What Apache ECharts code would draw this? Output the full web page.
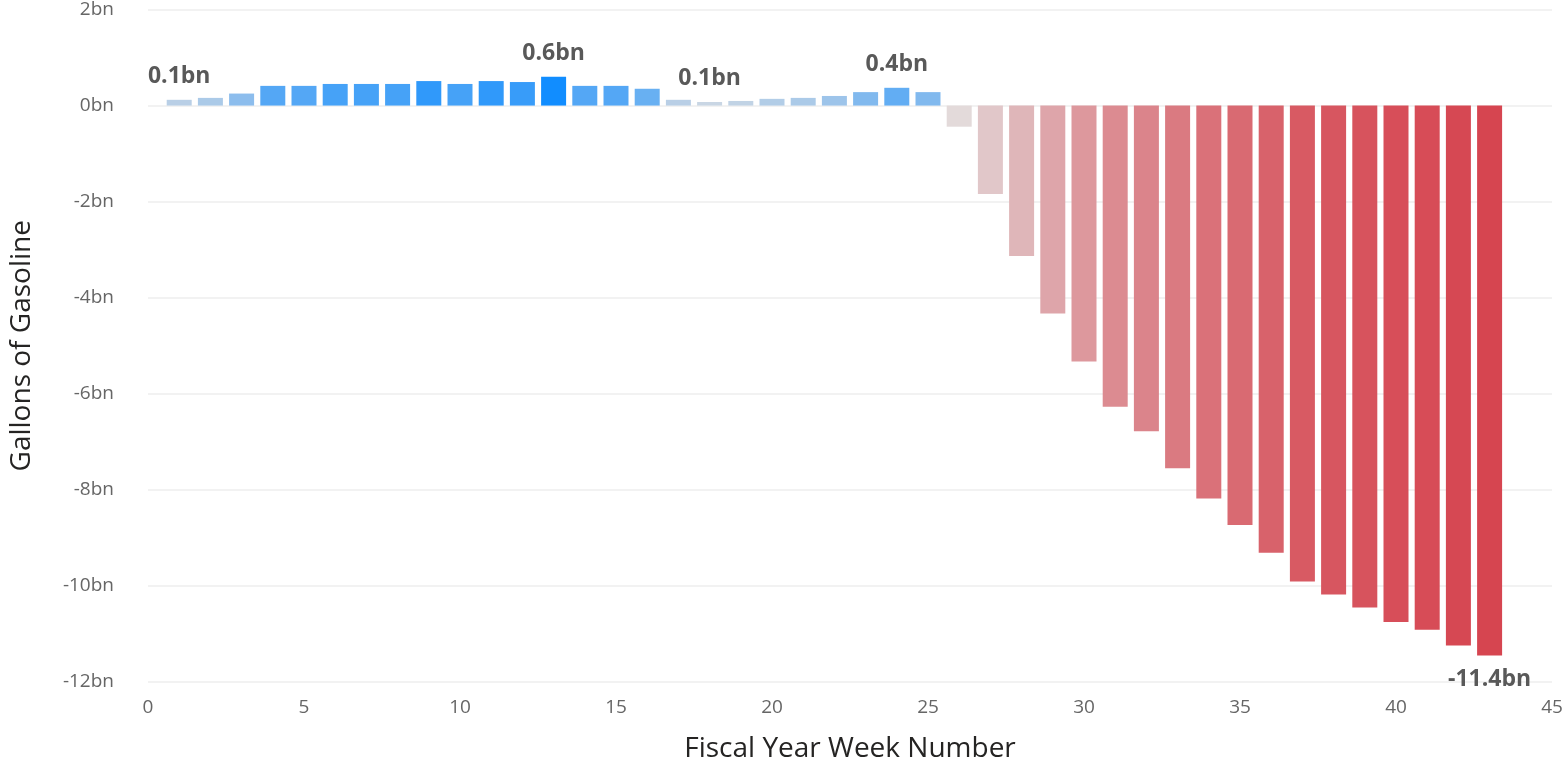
<!DOCTYPE html>
<html>
<head>
<meta charset="utf-8">
<script src="https://cdn.jsdelivr.net/npm/echarts@6/dist/echarts.min.js"></script>
<style>html,body{margin:0;padding:0;background:#fff;}#main{width:1568px;height:770px;}</style>
</head>
<body>
<div id="main"></div>
<script>
const weeks = [1,2,3,4,5,6,7,8,9,10,11,12,13,14,15,16,17,18,19,20,21,22,23,24,25,26,27,28,29,30,31,32,33,34,35,36,37,38,39,40,41,42,43];
const gallonsBn = [0.12,0.16,0.25,0.41,0.41,0.45,0.45,0.45,0.51,0.45,0.51,0.49,0.60,0.41,0.41,0.35,0.12,0.075,0.096,0.14,0.16,0.20,0.28,0.37,0.28,
  -0.44,-1.84,-3.13,-4.33,-5.33,-6.27,-6.78,-7.55,-8.18,-8.73,-9.31,-9.91,-10.18,-10.45,-10.75,-10.91,-11.24,-11.45];
const labeledWeeks = [1,13,18,24,43];
const yTicks = {min:-12, max:2, interval:2};
const xTicks = {min:0, max:45, interval:5};

const zeroColor = [227,224,224];
const posColor = [17,141,255];
const negColor = [214,69,80];
const maxPos = Math.max(...gallonsBn);
const minNeg = Math.min(...gallonsBn);
function mix(a,b,t){return 'rgb('+a.map((v,i)=>Math.round(v+(b[i]-v)*t)).join(',')+')';}
function colorFor(v){return v>=0 ? mix(zeroColor,posColor,v/maxPos) : mix(zeroColor,negColor,v/minNeg);}

const data = weeks.map((w,i)=>{
  const v = gallonsBn[i];
  const item = {value:[w,v], itemStyle:{color:colorFor(v)}};
  if (labeledWeeks.includes(w)) {
    item.label = {show:true, position: v>=0?'top':'bottom', distance:12,
      formatter: v.toFixed(1)+'bn', fontFamily:'Open Sans', fontWeight:'bold', fontSize:23, color:'#595959'};
  }
  return item;
});

const chart = echarts.init(document.getElementById('main'), null, {renderer:'canvas'});
chart.setOption({
  animation:false,
  grid:{left:148, right:16, top:2, bottom:88, containLabel:false},
  xAxis:{type:'value', min:xTicks.min, max:xTicks.max, interval:xTicks.interval,
    name:'Fiscal Year Week Number', nameLocation:'middle', nameGap:53,
    nameTextStyle:{fontFamily:'Open Sans', fontSize:28, color:'#252423'},
    axisLine:{show:false}, axisTick:{show:false}, splitLine:{show:false},
    axisLabel:{fontFamily:'Open Sans', fontSize:19, color:'#666', margin:16}},
  yAxis:{type:'value', min:yTicks.min, max:yTicks.max, interval:yTicks.interval,
    name:'Gallons of Gasoline', nameLocation:'middle', nameGap:112, nameRotate:90,
    nameTextStyle:{fontFamily:'Open Sans', fontSize:28, color:'#252423'},
    axisLine:{show:false}, axisTick:{show:false},
    splitLine:{lineStyle:{color:'#eeeeee', width:1.5}},
    axisLabel:{fontFamily:'Open Sans', fontSize:19, color:'#666', margin:34, formatter:v=>v+'bn'}},
  series:[{type:'bar', data:data, barWidth:25, label:{show:false}}]
});
</script>
</body>
</html>
